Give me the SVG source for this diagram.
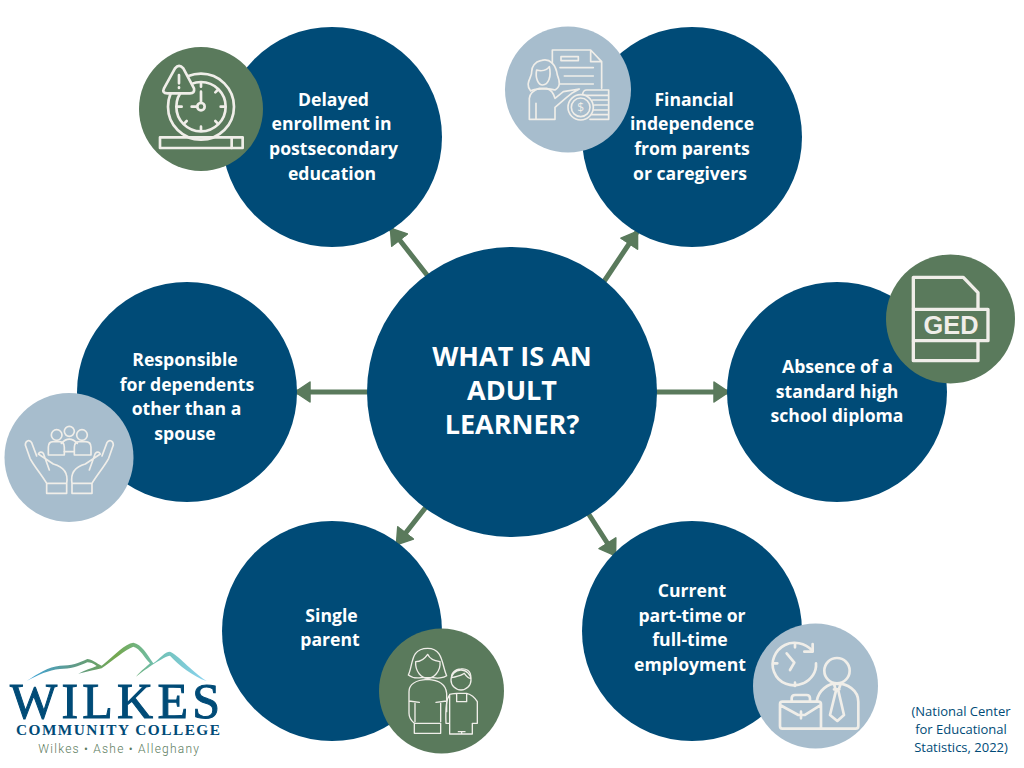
<svg xmlns="http://www.w3.org/2000/svg" width="1024" height="768" viewBox="0 0 1024 768">
<style>
.navy{fill:#004b77}.green{fill:#5a7a5c}.blue{fill:#a7bdcd}
.t{font-family:"Open Sans","Liberation Sans",sans-serif;font-weight:700;font-size:17.6px;fill:#fff;text-anchor:middle}
.h{font-family:"Open Sans","Liberation Sans",sans-serif;font-weight:700;font-size:27px;fill:#fff;text-anchor:middle}
.c{font-family:"Open Sans","Liberation Sans",sans-serif;font-size:13px;fill:#004b77;text-anchor:middle}
.i{fill:none;stroke:#f0eee9;stroke-width:8;stroke-linecap:round;stroke-linejoin:round}
.i2{fill:none;stroke:#f0eee9;stroke-width:5;stroke-linecap:round;stroke-linejoin:round}
.conn{fill:none;stroke:#5a7a5c;stroke-width:5;stroke-linecap:round;marker-end:url(#ah)}
</style>
<defs>
<marker id="ah" viewBox="-1 -1 17 22" refX="14" refY="10" markerWidth="3.4" markerHeight="4.4" orient="auto"><path d="M0 0L15 10L0 20Z" fill="#5a7a5c" stroke="#5a7a5c" stroke-width="1.5" stroke-linejoin="round"/></marker>
<linearGradient id="mt" gradientUnits="userSpaceOnUse" x1="80" y1="0" x2="620" y2="0"><stop offset="0" stop-color="#3fa6dd"/><stop offset=".25" stop-color="#5f9a8c"/><stop offset=".5" stop-color="#74a84f"/><stop offset=".72" stop-color="#6fbfb0"/><stop offset="1" stop-color="#8ad4f2"/></linearGradient>
</defs>
<rect width="1024" height="768" fill="#fff"/>
<g id="connectors">
<path class="conn" d="M427 275L391 229"/><path class="conn" d="M605 280L637 232"/><path class="conn" d="M657 392L728 392"/><path class="conn" d="M367 392L296 392"/><path class="conn" d="M426 507L397 544"/><path class="conn" d="M588 513L615 555"/>
</g>
<g id="center"><circle class="navy" cx="512" cy="392" r="145"/><text class="h"><tspan x="512" y="366">WHAT IS AN</tspan><tspan x="512" y="400">ADULT</tspan><tspan x="512" y="434">LEARNER?</tspan></text></g>
<g id="delayed"><circle class="navy" cx="332" cy="137" r="110"/><text class="t"><tspan x="333.500" y="106">Delayed</tspan><tspan x="331.500" y="130">enrollment in</tspan><tspan x="333.500" y="155">postsecondary</tspan><tspan x="332" y="180">education</tspan></text>
<circle class="green" cx="201" cy="109" r="62"/>
<g class="i" transform="translate(130,20) scale(.3333)"><circle cx="213" cy="260" r="99"/><circle cx="213" cy="260" r="74"/><path d="M213 215V245M185 260H200M213 190V200M213 320V330M143 260H155M272 260H283M163 210L170 217M263 210L256 217M163 310L170 303M263 310L256 303"/><circle cx="213" cy="260" r="11"/><path d="M135 145Q147 130 160 145L192 205Q195 220 180 220H112Q95 220 102 205Z" fill="#5a7a5c"/><path d="M147 165V190M147 202V204"/><rect x="90" y="352" width="248" height="32"/><path d="M305 352V384"/></g></g>
<g id="financial"><circle class="navy" cx="692" cy="137" r="110"/><text class="t"><tspan x="694" y="106">Financial</tspan><tspan x="692" y="130">independence</tspan><tspan x="692" y="155">from parents</tspan><tspan x="690" y="180">or caregivers</tspan></text>
<circle class="blue" cx="568" cy="89.5" r="63"/>
<g class="i2" transform="translate(500,20) scale(.3333)"><path d="M157 130V90H272L305 125V205M272 90V125H305"/><rect x="183" y="110" width="52" height="12"/><path d="M180 143H280M193 168H280M180 192H280"/><path d="M122 122C150 112 168 135 172 165C180 185 182 200 165 210C150 205 100 205 92 213C72 190 98 170 95 155C95 140 105 125 122 122Z"/><path d="M110 150C125 155 140 150 148 140C155 170 145 195 128 195C115 195 105 175 110 150Z"/><path d="M88 298V235Q90 215 118 205L140 205Q158 210 165 235L190 215L238 207L215 220L200 232L165 262V298H88M108 250V298"/><path d="M248 222Q250 210 260 210H326V298H270M248 226H326M278 240H326M284 255H326M282 270H326M275 284H326"/><circle cx="242" cy="262" r="38" fill="#a7bdcd"/><circle cx="242" cy="262" r="28"/><text x="242" y="275" font-family="Open Sans,sans-serif" font-size="36" fill="#f0eee9" stroke="none" text-anchor="middle">$</text></g></g>
<g id="diploma"><circle class="navy" cx="837" cy="392" r="110"/><text class="t"><tspan x="837.500" y="373">Absence of a</tspan><tspan x="837" y="398">standard high</tspan><tspan x="837" y="422">school diploma</tspan></text>
<circle class="green" cx="950.5" cy="319" r="64.5"/>
<g transform="translate(880,250) scale(.3333)"><path class="i" d="M100 178V82H250L294 128V178M100 272V332H294V272" style="stroke-width:10;stroke-linecap:butt"/><rect class="i" x="100" y="178" width="224" height="94" style="stroke-width:10"/><text x="213" y="251" font-family="Liberation Sans,sans-serif" font-weight="700" font-size="76" fill="#f0eee9" text-anchor="middle">GED</text></g></g>
<g id="dependents"><circle class="navy" cx="187" cy="392" r="110"/><text class="t"><tspan x="185" y="366">Responsible</tspan><tspan x="187" y="391">for dependents</tspan><tspan x="186.500" y="415">other than a</tspan><tspan x="185" y="440">spouse</tspan></text>
<circle class="blue" cx="69" cy="457.5" r="64.5"/>
<g class="i2" transform="translate(0,390) scale(.3333)"><circle cx="170" cy="135" r="16"/><circle cx="208" cy="124" r="15"/><circle cx="246" cy="135" r="16"/><path d="M184 160Q208 135 232 160M193 185H222"/><path d="M145 195V172Q145 155 160 155H178Q193 155 193 172V195ZM223 195V172Q223 155 238 155H256Q273 155 273 172V195Z"/><path d="M140 280V310H200V280H140M200 280C205 250 190 230 160 222L115 192C118 185 125 185 130 190L148 240M140 280C125 255 100 225 90 205L76 165C76 150 90 148 95 158L110 198"/><path d="M276 280V310H216V280H276M216 280C211 250 226 230 256 222L301 192C298 185 291 185 286 190L268 240M276 280C291 255 316 225 326 205L340 165C340 150 326 148 321 158L306 198"/></g></g>
<g id="single"><circle class="navy" cx="332" cy="631" r="110"/><text class="t"><tspan x="331.500" y="622">Single</tspan><tspan x="330" y="646">parent</tspan></text>
<circle class="green" cx="441.5" cy="691" r="62.5"/>
<g class="i2" style="stroke-width:4" transform="translate(375,625) scale(.3333)"><path d="M100 150C115 120 105 70 158 70C205 70 200 120 215 152C205 160 185 160 175 158H138C125 160 110 158 100 150Z"/><path d="M122 110C140 110 150 100 158 88C165 105 180 108 195 110C198 140 175 160 158 160C140 160 120 140 122 110Z"/><path d="M118 325V295H197V325H118ZM118 295C112 290 102 280 102 265V200C102 180 120 165 157 163C195 165 213 180 215 205V260M102 228L133 232M215 228L183 232M120 235V290M197 235V290"/><circle cx="258" cy="165" r="30"/><path d="M230 158C240 155 255 155 268 145C275 155 280 160 287 160C290 135 270 130 258 132C240 132 228 145 230 158Z"/><path d="M224 327V208Q240 205 245 205H275Q295 210 307 230V295H292V327ZM224 210Q210 225 213 295H224M245 205V230H275V205M250 320H270M260 320V327"/></g></g>
<g id="employment"><circle class="navy" cx="692" cy="631" r="110"/><text class="t"><tspan x="692" y="597">Current</tspan><tspan x="692" y="622">part-time or</tspan><tspan x="690" y="646">full-time</tspan><tspan x="690" y="671">employment</tspan></text>
<circle class="blue" cx="815.5" cy="686" r="62.5"/>
<g class="i" transform="translate(750,620) scale(.3333)"><path d="M187 92C165 68 130 62 105 75C75 90 60 125 72 155C85 190 125 205 160 190C185 178 200 155 198 130"/><path d="M188 72V95H163M110 100L133 128L120 150M135 70V82M135 188V198M70 130H82"/><circle cx="261" cy="152" r="38"/><path d="M200 245C205 210 235 190 261 190C290 190 325 210 325 245V318Q325 326 317 326H215"/><path d="M252 192L258 212L240 285L262 303L282 285L265 212L272 192ZM252 208H268"/><path d="M97 245H205Q213 245 213 253V326H97Q90 326 90 318V253Q90 245 97 245ZM90 255L145 285H165L213 255M153 275V295M125 245V235Q125 225 135 225H170Q180 225 180 235V245"/></g></g>
<g id="logo" transform="translate(0,635) scale(.3333)">
<path fill="url(#mt)" d="M80 138C115 115 145 95 180 92C215 92 235 85 262 72C275 72 290 85 305 92C345 60 375 25 400 23C425 28 440 55 460 85C480 70 495 50 510 50C535 60 570 105 620 138C580 125 535 90 510 62C490 65 440 100 408 125C425 105 440 95 450 85C435 70 420 40 400 35C375 45 340 75 305 100C285 105 260 110 235 116C255 105 275 100 290 93C280 85 270 82 262 82C235 95 210 102 180 102C145 105 115 120 80 138Z"/>
<g fill="#004b77" font-family="Liberation Serif,serif"><text x="30" y="250" font-size="150" stroke="#004b77" stroke-width="3" textLength="630">WILKES</text><text x="48" y="300" font-size="46" font-weight="700" textLength="612">COMMUNITY COLLEGE</text></g>
<text x="115" y="355" font-family="Roboto,sans-serif" font-weight="300" font-size="36" fill="#5a7a5c" textLength="482">Wilkes • Ashe • Alleghany</text></g>
<g id="citation"><text class="c"><tspan x="961" y="716">(National Center</tspan><tspan x="961" y="734">for Educational</tspan><tspan x="961" y="752">Statistics, 2022)</tspan></text></g>
</svg>
